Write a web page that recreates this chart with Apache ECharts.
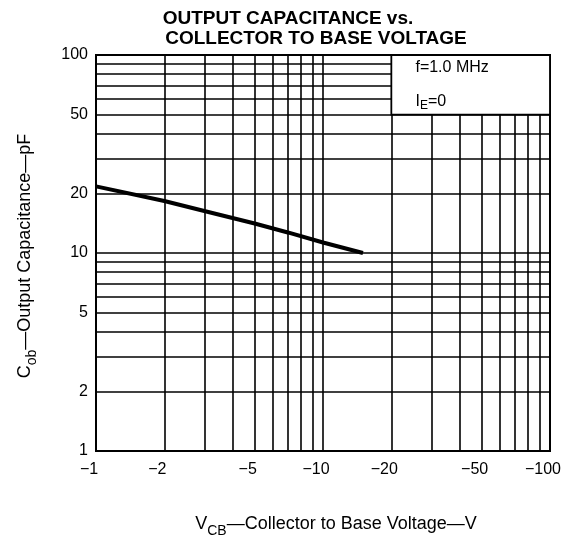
<!DOCTYPE html>
<html>
<head>
<meta charset="utf-8">
<script src="https://cdn.jsdelivr.net/npm/echarts@6/dist/echarts.min.js"></script>
<style>
html,body{margin:0;padding:0;background:#fff;}
#chart{width:571px;height:536px;}
</style>
</head>
<body>
<div id="chart"></div>
<script>
// Data (V_CB magnitude in volts, C_ob in pF)
const vcb = [1, 2, 3, 5, 7, 10, 15];
const cob = [21.7, 18.3, 16.3, 14.1, 12.7, 11.3, 10];

// Tick labels
const xTickValues = [1, 2, 5, 10, 20, 50, 100];
const yTickValues = [1, 2, 5, 10, 20, 50, 100];

// Log grid lines
const xGridValues = [2, 3, 4, 5, 6, 7, 8, 9, 10, 20, 30, 40, 50, 60, 70, 80, 90];
const yGridValues = [2, 3, 4, 5, 6, 7, 8, 9, 10, 20, 30, 40, 50, 60, 70, 80, 90];

// Annotation box corners (data coords)
const boxFrom = [20, 50];
const boxTo = [100, 100];

const FONT = '"Liberation Sans", Arial, Helvetica, sans-serif';

const chart = echarts.init(document.getElementById('chart'), null, { renderer: 'canvas' });

const gridLineData = [];
xGridValues.forEach(v => gridLineData.push({ xAxis: v }));
yGridValues.forEach(v => gridLineData.push({ yAxis: v }));

const option = {
  animation: false,
  backgroundColor: '#fff',
  graphic: [
    {
      type: 'text', x: 288, y: 19, silent: true,
      style: { text: 'OUTPUT CAPACITANCE vs.', align: 'center', verticalAlign: 'middle',
        fontSize: 19, fontWeight: 'bold', fontFamily: FONT, fill: '#000' }
    },
    {
      type: 'text', x: 316, y: 39, silent: true,
      style: { text: 'COLLECTOR TO BASE VOLTAGE', align: 'center', verticalAlign: 'middle',
        fontSize: 19, fontWeight: 'bold', fontFamily: FONT, fill: '#000' }
    }
  ],
  grid: {
    left: 96, right: 21, top: 55, bottom: 85,
    outerBoundsMode: 'none', containLabel: false,
    show: true, borderColor: '#000', borderWidth: 2, backgroundColor: 'transparent'
  },
  xAxis: {
    type: 'log', logBase: 10, min: 1, max: 100,
    axisLine: { show: false }, axisTick: { show: false }, splitLine: { show: false },
    minorTick: { show: false }, minorSplitLine: { show: false },
    axisLabel: {
      customValues: xTickValues,
      formatter: v => '\u2212' + v,
      color: '#000', fontSize: 16, fontFamily: FONT, margin: 11,
      padding: [0, 14, 0, 0], showMinLabel: true, showMaxLabel: true
    },
    name: '{m|V}{s|CB}{m|\u2014Collector to Base Voltage\u2014V}',
    nameLocation: 'middle', nameGap: 64,
    nameTextStyle: {
      padding: [0, 0, 0, 26],
      rich: {
        m: { fontSize: 18, fontFamily: FONT, color: '#000', lineHeight: 22, verticalAlign: 'top' },
        s: { fontSize: 14, fontFamily: FONT, color: '#000', lineHeight: 14, verticalAlign: 'top', padding: [9, 0, 0, 0] }
      }
    }
  },
  yAxis: {
    type: 'log', logBase: 10, min: 1, max: 100,
    axisLine: { show: false }, axisTick: { show: false }, splitLine: { show: false },
    minorTick: { show: false }, minorSplitLine: { show: false },
    axisLabel: {
      customValues: yTickValues,
      formatter: v => String(v),
      color: '#000', fontSize: 16, fontFamily: FONT, margin: 8,
      showMinLabel: true, showMaxLabel: true
    },
    name: '{m|C}{s|ob}{m|\u2014Output Capacitance\u2014pF}',
    nameLocation: 'middle', nameGap: 58, nameRotate: 90,
    nameTextStyle: {
      padding: [0, 6, 0, 0],
      rich: {
        m: { fontSize: 18, fontFamily: FONT, color: '#000', lineHeight: 22, verticalAlign: 'top' },
        s: { fontSize: 14, fontFamily: FONT, color: '#000', lineHeight: 14, verticalAlign: 'top', padding: [9, 0, 0, 0] }
      }
    }
  },
  series: [
    {
      name: 'grid',
      type: 'scatter',
      data: [],
      silent: true,
      z: 1,
      markLine: {
        silent: true,
        z: 1,
        symbol: ['none', 'none'],
        label: { show: false },
        lineStyle: { color: '#000', width: 1.6, type: 'solid' },
        emphasis: { disabled: true },
        data: gridLineData
      }
    },
    {
      name: 'box',
      type: 'scatter',
      data: [],
      silent: true,
      z: 3,
      markArea: {
        silent: true,
        z: 3,
        itemStyle: { color: '#fff', borderColor: '#000', borderWidth: 1.8 },
        emphasis: { disabled: true },
        label: {
          show: true,
          position: 'insideLeft',
          distance: 25,
          formatter: '{t|f=1.0 MHz}\n{t|I}{s|E}{t|=0}',
          rich: {
            t: { fontSize: 16, fontFamily: FONT, color: '#000', lineHeight: 34 },
            s: { fontSize: 12, fontFamily: FONT, color: '#000', lineHeight: 12, verticalAlign: 'top', padding: [15, 0, 0, 0] }
          }
        },
        data: [[{ coord: boxFrom }, { coord: boxTo }]]
      }
    },
    {
      name: 'Cob',
      type: 'line',
      z: 5,
      symbol: 'none',
      silent: true,
      lineStyle: { color: '#000', width: 4 },
      data: vcb.map((v, i) => [v, cob[i]])
    }
  ]
};

chart.setOption(option);
</script>
</body>
</html>
